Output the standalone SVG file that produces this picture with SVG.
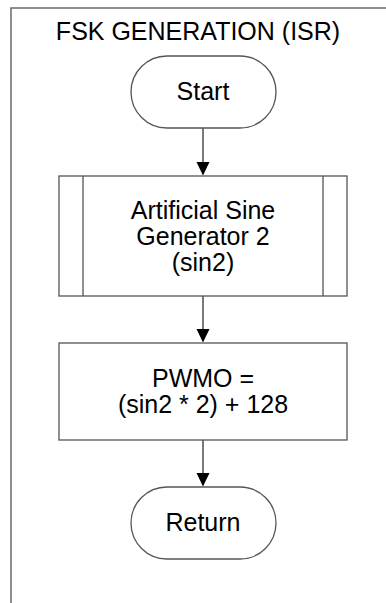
<svg xmlns="http://www.w3.org/2000/svg" width="386" height="603" viewBox="0 0 386 603">
<defs>
<style>
.frame{fill:none;stroke:#6a6a6a;stroke-width:1.5}
.shape{fill:#fff;stroke:#555;stroke-width:1.3}
.conn{fill:none;stroke:#333;stroke-width:1.3}
.t{font-family:"Liberation Sans",Arial,sans-serif;font-size:25px;fill:#000;text-anchor:middle}
</style>
</defs>
<rect width="386" height="603" fill="#fff"/>
<path class="frame" d="M11,603 V8 H386"/>
<text class="t" x="198" y="40">FSK GENERATION (ISR)</text>
<g id="connectors">
<path class="conn" d="M203,128 V162"/>
<path d="M196.5,162 L209.5,162 L203,175.5 z" fill="#000"/>
<path class="conn" d="M203,296 V329"/>
<path d="M196.5,329 L209.5,329 L203,342.5 z" fill="#000"/>
<path class="conn" d="M203,440 V473"/>
<path d="M196.5,473 L209.5,473 L203,486.5 z" fill="#000"/>
</g>
<g id="start">
<rect class="shape" x="131" y="56" width="145" height="72" rx="36" ry="36"/>
<text class="t" x="203" y="100">Start</text>
</g>
<g id="sine-generator">
<rect class="shape" x="59" y="176" width="288" height="120"/>
<path class="shape" d="M83,176 V296 M323,176 V296"/>
<text class="t" x="203" y="219">Artificial Sine</text>
<text class="t" x="203" y="245">Generator 2</text>
<text class="t" x="203" y="271">(sin2)</text>
</g>
<g id="pwmo">
<rect class="shape" x="59" y="343" width="288" height="97"/>
<text class="t" x="203" y="387">PWMO =</text>
<text class="t" x="203" y="413">(sin2 * 2) + 128</text>
</g>
<g id="return">
<rect class="shape" x="131" y="487" width="145" height="72" rx="36" ry="36"/>
<text class="t" x="203" y="531">Return</text>
</g>
</svg>
